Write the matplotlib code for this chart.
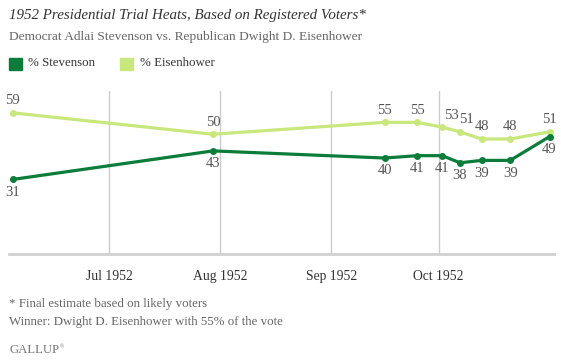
import matplotlib
matplotlib.use("Agg")
import matplotlib.pyplot as plt
from matplotlib.patches import Rectangle
import datetime as dt

# ---- data ----
dates = ["1952-06-04", "1952-07-30", "1952-09-16", "1952-09-25", "1952-10-02",
         "1952-10-07", "1952-10-13", "1952-10-21", "1952-11-01"]
stevenson = [31, 43, 40, 41, 41, 38, 39, 39, 49]
eisenhower = [59, 50, 55, 55, 53, 51, 48, 48, 51]
tick_dates = ["1952-07-01", "1952-08-01", "1952-09-01", "1952-10-01"]
tick_labels = ["Jul 1952", "Aug 1952", "Sep 1952", "Oct 1952"]
series_names = ["% Stevenson", "% Eisenhower"]

# label nudges (style, in points)
eis_dx = [0, 0, 0, 0, 6.5, 4.5, 0, 0, 0]

x = [dt.datetime.strptime(d, "%Y-%m-%d") for d in dates]
xt = [dt.datetime.strptime(d, "%Y-%m-%d") for d in tick_dates]

DARK = "#0b7c39"
LIGHT = "#c8e77c"
FONT = "Liberation Serif"

W, H = 561, 363
fig = plt.figure(figsize=(W / 100, H / 100), dpi=100)
ax = fig.add_axes([9 / W, 1 - 254.4 / H, (554 - 9) / W, (254.4 - 90.7) / H])

ax.plot(x, eisenhower, color=LIGHT, lw=2.3, marker="o", ms=4, zorder=3,
        solid_joinstyle="round")
ax.plot(x, stevenson, color=DARK, lw=2.3, marker="o", ms=4, zorder=4,
        solid_joinstyle="round")

for xi, v, dx in zip(x, eisenhower, eis_dx):
    ax.annotate(str(v), (xi, v), xytext=(dx, 4), textcoords="offset points",
                ha="center", va="bottom", fontsize=10.5, color="#555555",
                family=FONT)
for xi, v in zip(x, stevenson):
    ax.annotate(str(v), (xi, v), xytext=(0, -4.5), textcoords="offset points",
                ha="center", va="top", fontsize=10.5, color="#555555",
                family=FONT)

ax.set_xlim(dt.datetime(1952, 6, 3), dt.datetime(1952, 11, 2, 6))
ax.set_ylim(-0.5, 68.3)
ax.set_xticks(xt)
ax.set_xticklabels(tick_labels, family=FONT, fontsize=9.8, color="#333333")
ax.tick_params(axis="x", length=0, pad=11)
ax.set_yticks([])
ax.grid(axis="x", color="#cccccc", lw=1)
ax.set_axisbelow(True)
for s in ["top", "left", "right"]:
    ax.spines[s].set_visible(False)
ax.spines["bottom"].set_color("#d0d0d0")
ax.spines["bottom"].set_linewidth(2)

# titles
fig.text(9 / W, 1 - 15.5 / H, "1952 Presidential Trial Heats, Based on Registered Voters*",
         family=FONT, style="italic", fontsize=10.8, color="#333333", va="center")
fig.text(9 / W, 1 - 37 / H, "Democrat Adlai Stevenson vs. Republican Dwight D. Eisenhower",
         family=FONT, fontsize=9.6, color="#666666", va="center")

# legend
for lx, col, name in [(9, DARK, series_names[0]), (120, LIGHT, series_names[1])]:
    fig.patches.append(Rectangle((lx / W, 1 - 70 / H), 12.5 / W, 12.3 / H,
                                 transform=fig.transFigure, color=col))
    fig.text((lx + 19.5) / W, 1 - 63.5 / H, name, family=FONT, fontsize=9.3,
             color="#333333", va="center")

# footer
fig.text(9 / W, 1 - 304 / H, "* Final estimate based on likely voters",
         family=FONT, fontsize=9.3, color="#666666", va="center")
fig.text(9 / W, 1 - 322 / H, "Winner: Dwight D. Eisenhower with 55% of the vote",
         family=FONT, fontsize=9.3, color="#666666", va="center")
fig.text(9 / W, 1 - 350 / H, "GALLUP", family=FONT, fontsize=9.2,
         color="#777777", va="center")
fig.text(59.5 / W, 1 - 346.5 / H, "\u00ae", family=FONT, fontsize=4,
         color="#777777", va="center")

fig.savefig("out.png", dpi=100)
